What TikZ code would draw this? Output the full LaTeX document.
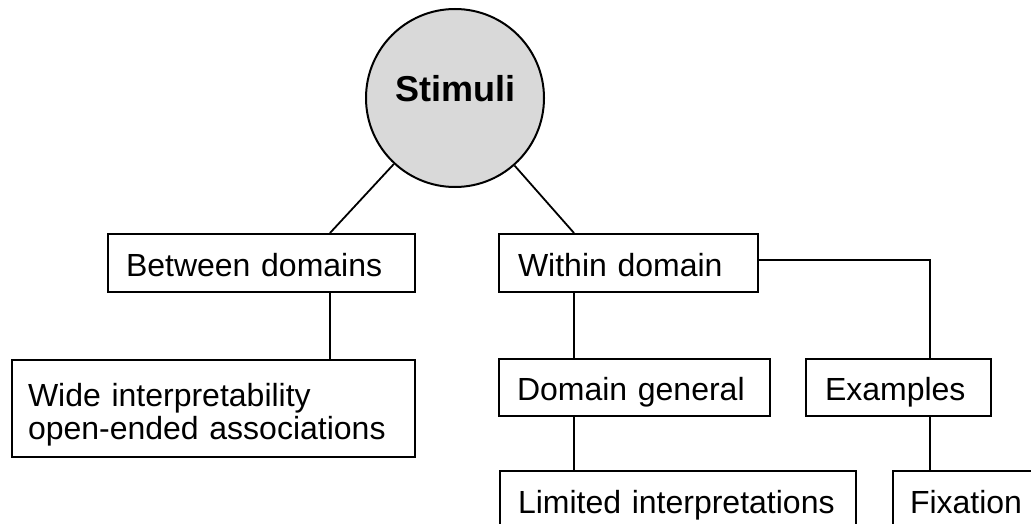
\documentclass[tikz,border=0pt]{standalone}
\usepackage{fontspec}
\setmainfont{Liberation Sans}
\begin{document}
\begin{tikzpicture}[x=1pt,y=-1pt,
  line width=2pt,
  box/.style={draw=black, line width=2pt, rectangle, align=left,
    font=\fontsize{32}{33}\selectfont, inner ysep=0pt, anchor=center},
  single/.style={box, text height=26pt, text depth=0pt},
  conn/.style={draw=black, line width=1.8pt}]
\useasboundingbox (0,0) rectangle (1031,524);
\clip (0,0) rectangle (1031,524);
\fill[white] (0,0) rectangle (1031,524);
% circle
\node[circle, draw=black, line width=2pt, fill=black!15, minimum size=178pt, inner sep=0pt] (stim) at (455,98) {};
\node[font=\fontsize{36}{40}\selectfont\bfseries, anchor=base] (stimtxt) at (455,102) {Stimuli};
% boxes
\node[single, minimum height=58pt, text width=271pt, inner xsep=18pt] (btw) at (261.5,263) {Between domains};
\node[box, minimum height=97pt, text width=371pt, inner xsep=16pt] (wide) at (213.5,408.5) {\rule{0pt}{36.4pt}Wide interpretability\\open-ended associations};
\node[single, minimum height=58pt, text width=221pt, inner xsep=19pt] (within) at (628.5,263) {Within domain};
\node[single, minimum height=57pt, text width=235pt, inner xsep=18pt] (dg) at (634.5,387.5) {Domain general};
\node[single, minimum height=57pt, text width=147pt, inner xsep=19pt] (ex) at (898.5,387.5) {Examples};
\node[single, minimum height=59pt, text width=320pt, inner xsep=18pt] (lim) at (678,500.5) {Limited interpretations};
\node[single, minimum height=59pt, text width=118pt, inner xsep=17pt] (fix) at (969,500.5) {Fixation};
% columns
\coordinate (cL) at (330,0);
\coordinate (cM) at (574,0);
\coordinate (cR) at (930,0);
\coordinate (hy) at (0,260);
% connectors
\draw[conn] (stim) -- (btw.north -| cL);
\draw[conn] (btw.south -| cL) -- (wide.north -| cL);
\draw[conn] (stim) -- (within.north -| cM);
\draw[conn] (within.south -| cM) -- (dg.north -| cM);
\draw[conn] (dg.south -| cM) -- (lim.north -| cM);
\draw[conn] (within.east |- hy) -- (cR |- hy) -- (ex.north -| cR);
\draw[conn] (ex.south -| cR) -- (fix.north -| cR);
\end{tikzpicture}
\end{document}
